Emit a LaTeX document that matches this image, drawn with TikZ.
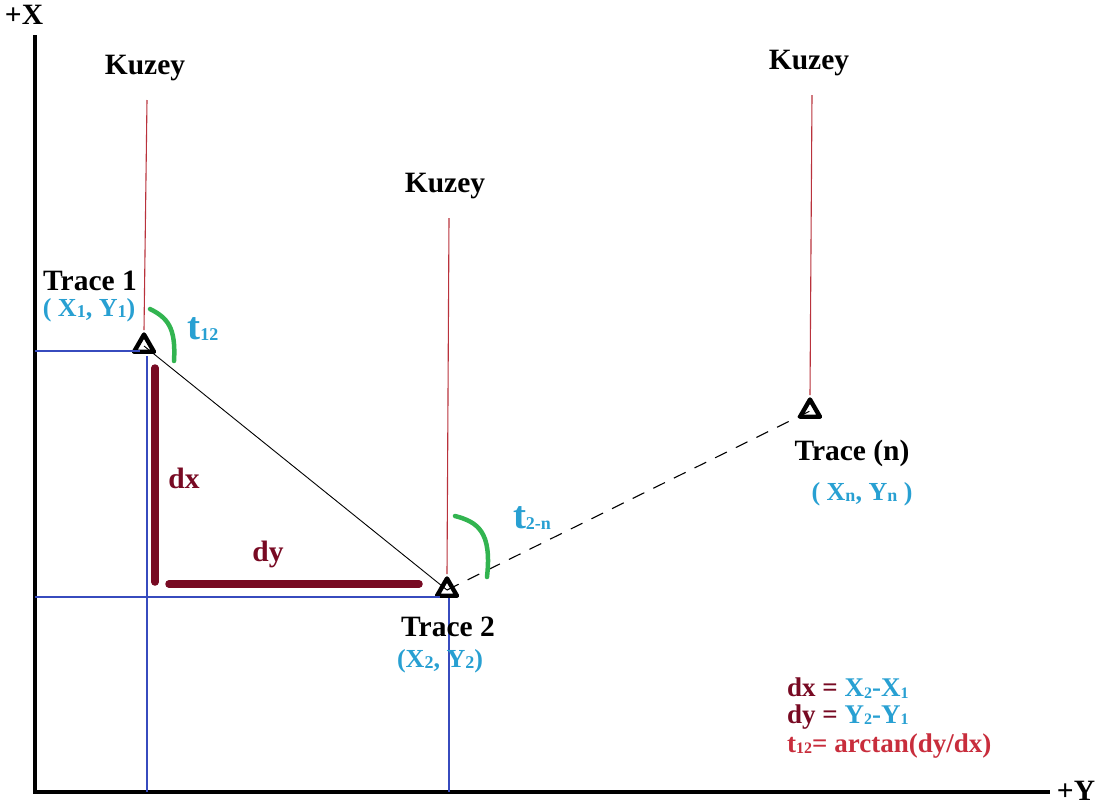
\documentclass[tikz,border=0pt]{standalone}
\usepackage{fontspec}
\setmainfont{Liberation Serif}
\usetikzlibrary{shapes.geometric}
\definecolor{cblue}{RGB}{40,160,210}
\definecolor{cdred}{RGB}{120,10,35}
\definecolor{cred}{RGB}{200,45,60}
\definecolor{cgreen}{RGB}{50,180,80}
\definecolor{cnorth}{RGB}{185,50,60}
\definecolor{cgrid}{RGB}{55,75,190}
\newcommand\lowsub[1]{\raisebox{-1.5pt}{\fontsize{18}{18}\selectfont #1}}
\newcommand\fsub[1]{\raisebox{-1.5pt}{\fontsize{16}{16}\selectfont #1}}
\tikzset{
  lbl/.style={font=\bfseries\fontsize{29.5}{29.5}\selectfont, inner sep=0pt},
  fml/.style={font=\bfseries\fontsize{27}{27}\selectfont, inner sep=0pt, anchor=west},
  coord/.style={font=\bfseries\fontsize{26}{26}\selectfont, text=cblue, inner sep=0pt},
  marker/.style={regular polygon, regular polygon sides=3, draw=black, line width=4.4pt, line join=round, minimum size=23pt, inner sep=0pt},
  north/.style={draw=cnorth, line width=1.1pt},
  grid/.style={draw=cgrid, line width=1.1pt},
  axis/.style={draw=black, line width=3.5pt},
  leg/.style={draw=cdred, line width=7.5pt, line cap=round},
  angarc/.style={draw=cgreen, line width=4.5pt, line cap=round},
  angl/.style={inner sep=0pt, text=cblue, font=\bfseries\fontsize{39}{39}\selectfont},
}
\begin{document}
\begin{tikzpicture}[x=1pt,y=-1pt]
\useasboundingbox (0,0) rectangle (1095,807);
% axes
\coordinate (o) at (35,792);
\coordinate (xtop) at (35,35);
\coordinate (yend) at (1050,792);
\draw[axis] (xtop) -- (o) -- (yend);
\node[lbl] (xlab) at (24,15) {+X};
\node[lbl] (ylab) at (1076,791) {+Y};
% traces
\node[marker] (t1) at (144,346) {};
\node[marker] (t2) at (447,590) {};
\node[marker] (tn) at (810,411) {};
% grid lines
\coordinate (g1a) at (35,351);
\coordinate (g1b) at (140,351);
\coordinate (g1c) at (147,356);
\coordinate (g1d) at (147,792);
\draw[grid] (g1a) -- (g1b);
\draw[grid] (g1c) -- (g1d);
\coordinate (g2a) at (35,597);
\coordinate (g2b) at (440,597);
\coordinate (g2c) at (449,598);
\coordinate (g2d) at (449,792);
\draw[grid] (g2a) -- (g2b);
\draw[grid] (g2c) -- (g2d);
% north lines
\coordinate (n1) at (147,100);
\coordinate (n2) at (449,218);
\coordinate (n3) at (812,95);
\draw[north] (n1) -- (t1.north);
\draw[north] (n2) -- (t2.north);
\draw[north] (n3) -- (tn.north);
\node[lbl] (k1) at (145,68) {Kuzey};
\node[lbl] (k2) at (445,186) {Kuzey};
\node[lbl] (k3) at (809,63) {Kuzey};
% connections
\draw[black, line width=0.9pt] (t1.center) -- (t2.center);
\draw[black, line width=1.1pt, dash pattern=on 13pt off 10pt] (t2.center) -- (tn.center);
% dx dy legs
\coordinate (dxa) at (155,368);
\coordinate (dxb) at (155,582);
\coordinate (dya) at (169,584);
\coordinate (dyb) at (419,584);
\draw[leg] (dxa) -- (dxb);
\draw[leg] (dya) -- (dyb);
\node[lbl, text=cdred] (dxl) at (184,478) {dx};
\node[lbl, text=cdred] (dyl) at (268,554) {dy};
% angle arcs
\coordinate (a1s) at (150,309);
\coordinate (a1e) at (174,361);
\draw[angarc] (a1s) .. controls (168,318) and (176,328) .. (a1e);
\coordinate (a2s) at (455,516);
\coordinate (a2e) at (487,577);
\draw[angarc] (a2s) .. controls (478,522) and (492,532) .. (a2e);
\node[angl] (t12) at (203,329) {t\lowsub{12}};
\node[angl] (t2n) at (532,518) {t\lowsub{2-n}};
% labels
\node[lbl] (tr1) at (90,281) {Trace 1};
\node[coord] (c1) at (89,310) {( X\lowsub{1}, Y\lowsub{1})};
\node[lbl] (tr2) at (448,627) {Trace 2};
\node[coord] (c2) at (440,661) {(X\lowsub{2}, Y\lowsub{2})};
\node[lbl] (trn) at (852,453) {Trace (n)};
\node[coord] (cn) at (862,494) {( X\lowsub{n}, Y\lowsub{n} )};
% formulas
\node[fml, text=cdred] (f1) at (787,688) {dx = \textcolor{cblue}{X\fsub{2}-X\fsub{1}}};
\node[fml, text=cdred] (f2) at (787,717) {dy = \textcolor{cblue}{Y\fsub{2}-Y\fsub{1}}};
\node[fml, text=cred] (f3) at (787,746) {t\fsub{12}= arctan(dy/dx)};
\end{tikzpicture}
\end{document}
